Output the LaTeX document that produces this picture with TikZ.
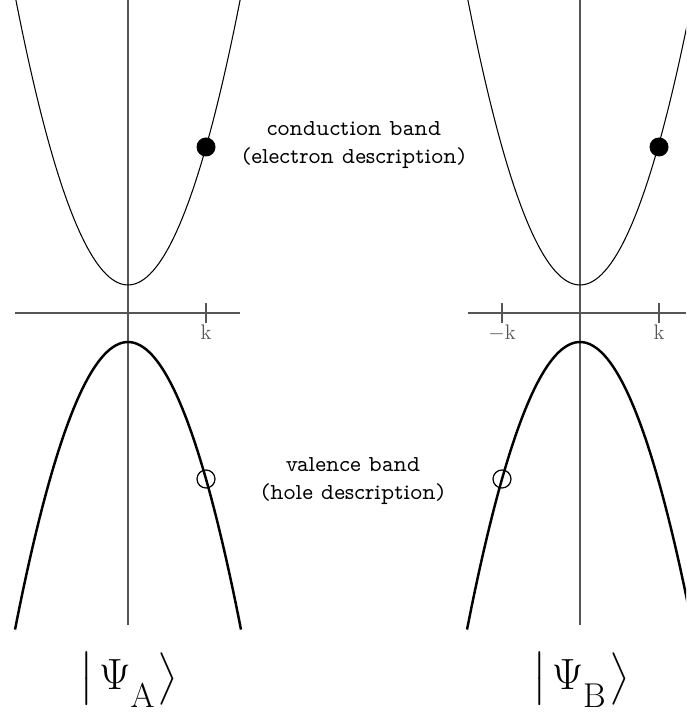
\documentclass[tikz,border=0pt]{standalone}
\usepackage{amsmath}
\usepackage{fontspec}
\usepackage{tikz}
\usepackage{xcolor}
\usetikzlibrary{positioning}
\newfontfamily\propmono{Latin Modern Mono Prop}
\definecolor{axisgray}{HTML}{555555}
\newcommand{\lowsub}[1]{\lower0.22em\hbox{$\scriptstyle\mathrm{#1}$}}

\begin{document}
\begin{tikzpicture}[x=0.02cm, y=-0.02cm,
  axis/.style={axisgray, line width=0.6pt},
  tick/.style={axisgray, line width=0.6pt},
  ticklabel/.style={axisgray, font=\fontsize{12}{14}\selectfont, inner sep=1pt},
  cband/.style={black, line width=0.6pt},
  vband/.style={black, line width=1.4pt},
  electron/.style={circle, fill=black, minimum size=0.38cm, inner sep=0pt},
  hole/.style={circle, draw=black, line width=0.7pt, minimum size=0.36cm, inner sep=0pt},
  bandlabel/.style={font=\propmono\fontsize{13}{15.5}\selectfont, align=center},
  ket/.style={font=\fontsize{28}{34}\selectfont, inner sep=0pt}]

\useasboundingbox (0,0) rectangle (686,715);
\clip (0,0) rectangle (686,715);

% state A
\draw[axis] (128,0) -- (128,625);
\draw[axis] (15,313) -- (240,313);
\draw[tick] (206,303) -- (206,323);
\node[ticklabel, below] (kA) at (206,323) {k};
\draw[cband] plot[domain=-113:113, samples=80, smooth] ({128+\x}, {285-0.02268*\x*\x});
\draw[vband] plot[domain=-113:113, samples=80, smooth] ({128+\x}, {342+0.02252*\x*\x});
\node[electron] (eA) at (206,147) {};
\node[hole] (hA) at (206,479) {};

% state B
\draw[axis] (580,0) -- (580,625);
\draw[axis] (468,313) -- (686,313);
\draw[tick] (502,303) -- (502,323);
\draw[tick] (659,303) -- (659,323);
\node[ticklabel, below] (mkB) at (502,323) {$-$k};
\node[ticklabel, below] (kB) at (659,323) {k};
\draw[cband] plot[domain=-113:113, samples=80, smooth] ({580+\x}, {285-0.02268*\x*\x});
\draw[vband] plot[domain=-113:113, samples=80, smooth] ({580+\x}, {342+0.02252*\x*\x});
\node[electron] (eB) at (659,147) {};
\node[hole] (hB) at (502,479) {};

% band labels
\node[bandlabel] (cond) at (354,145) {conduction band\\(electron description)};
\node[bandlabel] (val) at (353,481) {valence band\\(hole description)};

% kets
\node[ket] (ketA) at (129,680) {$\big|\mkern2mu\Psi_{\lowsub{A}}\mkern1mu\big\rangle$};
\node[ket] (ketB) at (581,680) {$\big|\mkern2mu\Psi_{\lowsub{B}}\mkern1mu\big\rangle$};
\end{tikzpicture}
\end{document}
